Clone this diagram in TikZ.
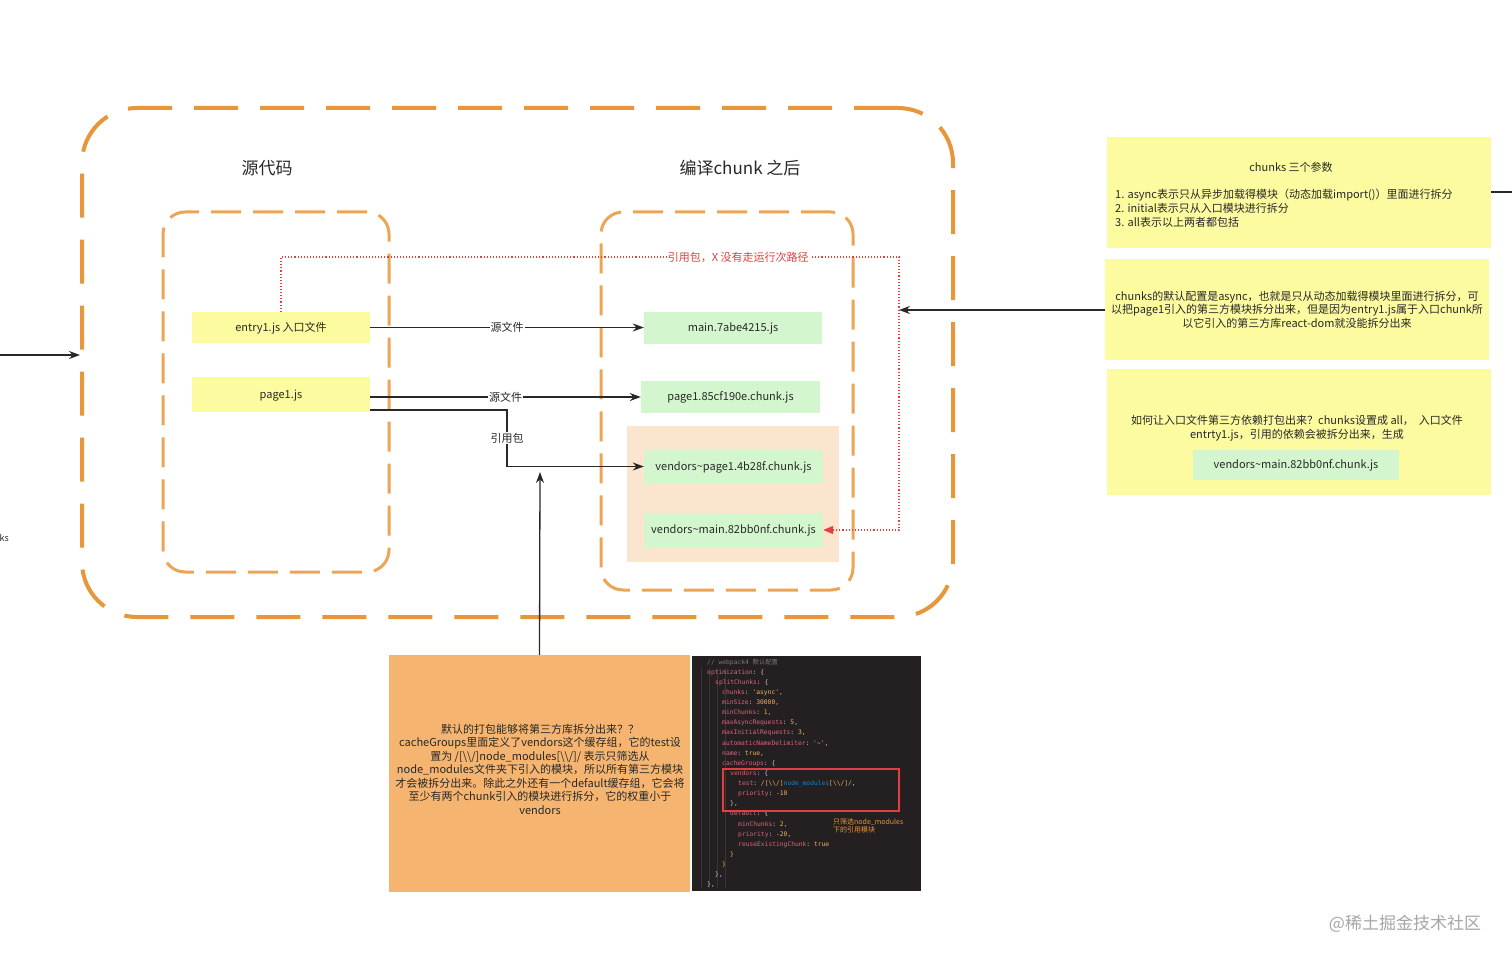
\documentclass[tikz,border=0pt]{standalone}
\usepackage{fontspec}
\setmainfont{Noto Sans CJK SC}
\setmonofont{DejaVu Sans Mono}
\usetikzlibrary{arrows.meta}
\definecolor{orangeS}{RGB}{232,150,58}
\definecolor{orangeI}{RGB}{236,165,85}
\definecolor{yboxc}{RGB}{252,251,160}
\definecolor{gboxc}{RGB}{212,246,206}
\definecolor{peachc}{RGB}{252,229,206}
\definecolor{oboxc}{RGB}{245,181,112}
\definecolor{codebg}{RGB}{36,31,33}
\definecolor{txt}{RGB}{40,40,40}
\definecolor{redc}{RGB}{226,64,64}
\definecolor{ckey}{RGB}{226,98,122}
\definecolor{cpun}{RGB}{205,200,200}
\definecolor{cval}{RGB}{236,182,92}
\definecolor{ccom}{RGB}{125,120,115}
\definecolor{cguide}{RGB}{58,54,55}
\newcommand\codekv[2]{\textcolor{ckey}{#1}\textcolor{cpun}{:} \textcolor{cval}{#2}}
\begin{document}
\begin{tikzpicture}[x=1pt,y=-1pt,
  base/.style={font=\fontsize{11}{13.5}\selectfont, text=txt},
  ybox/.style={base, fill=yboxc, inner sep=0pt, text height=9pt, text depth=1.5pt},
  gbox/.style={base, fill=gboxc, inner sep=0pt, text height=9pt, text depth=1.5pt},
  cont/.style={draw=orangeI, line width=3pt, dash pattern=on 30pt off 12pt, rounded corners=22pt, inner sep=0pt},
  arr/.style={draw=txt, line width=1.3pt, -{Stealth[length=11pt,width=8pt]}},
  lbl/.style={base, fill=white, inner sep=1pt},
  codeln/.style={anchor=west, inner sep=0pt, font=\ttfamily\fontsize{6.3}{7}\selectfont, text=cpun},
]
\useasboundingbox[fill=white] (0,0) rectangle (1512,960);

% outer container
\node[draw=orangeS, line width=4pt, dash pattern=on 44pt off 22pt, rounded corners=55pt,
      minimum width=871pt, minimum height=509pt, inner sep=0pt] (outer) at (517.5,362.5) {};
% inner containers
\node[cont, minimum width=226pt, minimum height=360pt] (src) at (276,392) {};
\node[cont, minimum width=252pt, minimum height=378pt] (dst) at (727,401) {};
\node[font=\fontsize{17}{20}\selectfont, text=txt] (t1) at (267,168) {源代码};
\node[font=\fontsize{17}{20}\selectfont, text=txt] (t2) at (740,168) {编译chunk 之后};

% peach group
\node[fill=peachc, minimum width=212pt, minimum height=136pt, inner sep=0pt] (peach) at (733,494) {};

% boxes
\node[ybox, minimum width=178pt, minimum height=31pt] (entry) at (281,327.5) {entry1.js 入口文件};
\node[ybox, minimum width=178pt, minimum height=35pt] (page1) at (281,394.5) {page1.js};
\node[gbox, minimum width=178pt, minimum height=32pt] (main) at (733,328) {main.7abe4215.js};
\node[gbox, minimum width=179pt, minimum height=32pt] (p185) at (730.5,397) {page1.85cf190e.chunk.js};
\node[gbox, minimum width=179pt, minimum height=33pt] (vp1) at (733.5,466.5) {vendors\textasciitilde page1.4b28f.chunk.js};
\node[gbox, minimum width=179pt, minimum height=34pt] (vm) at (733.5,530) {vendors\textasciitilde main.82bb0nf.chunk.js};

% connectors
\draw[arr] (entry.east) -- node[lbl]{源文件} (entry.east -| main.west);
\draw[arr] (page1.east |- p185.west) -- node[lbl]{源文件} (p185.west);
\coordinate (bend) at (507,410);
\draw[arr] (page1.east |- bend) -- (bend) -- node[lbl]{引用包} (bend |- vp1.west) -- (vp1.west);
\coordinate (rc) at (899,257);
\draw[draw=redc, line width=1.1pt, dotted, -{Triangle[length=10pt,width=8pt]}, color=redc]
  (entry.north) -- (entry.north |- rc) -- node[pos=0.74, base, text=redc, fill=white, inner sep=1pt]{引用包，X 没有走运行次路径} (rc) -- (rc |- vm.east) -- (vm.east);

% notes
\node[fill=yboxc, minimum width=384pt, minimum height=111pt, inner sep=0pt] (note1) at (1299,192.5) {};
\node[base] (n1t) at (1291,167) {chunks 三个参数};
\node[base, anchor=north west, align=left, inner sep=0pt, font=\fontsize{11}{14}\selectfont] (n1l) at (1115,188.5)
  {1. async表示只从异步加载得模块（动态加载import()）里面进行拆分\\2. initial表示只从入口模块进行拆分\\3. all表示以上两者都包括};
\node[ybox, text height=, text depth=, minimum width=384pt, minimum height=101pt, align=center] (note2) at (1297,309.5)
  {chunks的默认配置是async，也就是只从动态加载得模块里面进行拆分，可\\以把page1引入的第三方模块拆分出来，但是因为entry1.js属于入口chunk所\\以它引入的第三方库react-dom就没能拆分出来};
\node[fill=yboxc, minimum width=384pt, minimum height=126pt, inner sep=0pt] (note3) at (1299,432) {};
\node[base, align=center] (n3t) at (1297,428)
  {如何让入口文件第三方依赖打包出来？chunks设置成 all，~ 入口文件\\entrty1.js，引用的依赖会被拆分出来，生成};
\node[gbox, minimum width=206pt, minimum height=30pt] (n3g) at (1296,465) {vendors\textasciitilde main.82bb0nf.chunk.js};

\coordinate (n2tip) at (899,310);
\draw[arr] (note2.west |- n2tip) -- (n2tip);
\coordinate (rend) at (1512,192);
\draw[draw=txt, line width=1.3pt] (note1.east |- rend) -- (rend);
\coordinate (lstart) at (0,355);
\draw[arr] (lstart) -- (lstart -| outer.west);
\node[font=\fontsize{9}{10}\selectfont, text=txt, anchor=east, inner sep=0pt] (ks) at (9,538) {ks};

% bottom orange note
\node[fill=oboxc, minimum width=301pt, minimum height=237pt, inner sep=0pt] (obox) at (539.5,773.5) {};
\node[base, align=center] (otext) at (540,769)
  {默认的打包能够将第三方库拆分出来？？\\cacheGroups里面定义了vendors这个缓存组，它的test设\\置为 /[\textbackslash\textbackslash/]node\_modules[\textbackslash\textbackslash/]/ 表示只筛选从\\node\_modules文件夹下引入的模块，所以所有第三方模块\\才会被拆分出来。除此之外还有一个default缓存组，它会将\\至少有两个chunk引入的模块进行拆分，它的权重小于\\vendors};
\coordinate (btip) at (540,472);
\draw[arr] (obox.north) -- (btip);

% code screenshot
\node[fill=codebg, minimum width=229pt, minimum height=235pt, inner sep=0pt] (code) at (806.5,773.5) {};
\foreach \gx in {701,709,717,725} \draw[cguide, line width=0.5pt] (\gx,668) -- (\gx,888);
\node[codeln, text=ccom] (c1) at (707,663) {// webpack4 {\rmfamily 默认配置}};
\node[codeln] (c2) at (707,673) {\textcolor{ckey}{optimization}: \{};
\node[codeln] (c3) at (715,683) {\textcolor{ckey}{splitChunks}: \{};
\node[codeln] (c4) at (722,693) {\codekv{chunks}{'async'},};
\node[codeln] (c5) at (722,703) {\codekv{minSize}{30000},};
\node[codeln] (c6) at (722,713) {\codekv{minChunks}{1},};
\node[codeln] (c7) at (722,723) {\codekv{maxAsyncRequests}{5},};
\node[codeln] (c8) at (722,733) {\codekv{maxInitialRequests}{3},};
\node[codeln] (c9) at (722,744) {\codekv{automaticNameDelimiter}{'\textasciitilde'},};
\node[codeln] (c10) at (722,754) {\codekv{name}{true},};
\node[codeln] (c11) at (722,764) {\textcolor{ckey}{cacheGroups}: \{};
\node[codeln] (c12) at (730,774) {\textcolor{ckey}{vendors}: \{};
\node[codeln] (c13) at (738,784) {\textcolor{ckey}{test}: \textcolor{cval}{/[\textbackslash\textbackslash/]}\textcolor{cyan!70!blue}{node\_modules}\textcolor{cval}{[\textbackslash\textbackslash/]/},};
\node[codeln] (c14) at (738,794) {\codekv{priority}{-10}};
\node[codeln] (c15) at (730,804) {\},};
\node[codeln] (c16) at (730,814) {\textcolor{ckey}{default}: \{};
\node[codeln] (c17) at (738,825) {\codekv{minChunks}{2},};
\node[codeln] (c18) at (738,835) {\codekv{priority}{-20},};
\node[codeln] (c19) at (738,845) {\codekv{reuseExistingChunk}{true}};
\node[codeln, text=cval] (c20) at (730,855) {\}};
\node[codeln, text=cval] (c21) at (722,865) {\}};
\node[codeln] (c22) at (715,875) {\},};
\node[codeln] (c23) at (707,885) {\},};
\draw[redc, line width=1.5pt] (723,769) rectangle (899,811);
\node[anchor=north west, align=left, inner sep=0pt, text=orangeS, font=\fontsize{7}{8}\selectfont] (cnote) at (833,818) {只筛选node\_modules\\下的引用模块};

% watermark
\node[font=\fontsize{17}{20}\selectfont, text=black!35] (wm) at (1405,924) {@稀土掘金技术社区};
\end{tikzpicture}
\end{document}
